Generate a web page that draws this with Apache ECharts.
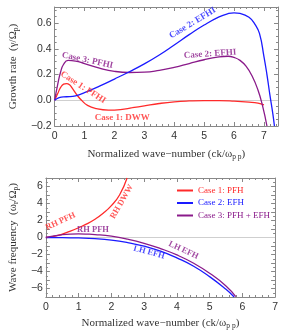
<!DOCTYPE html>
<html><head><meta charset="utf-8">
<script src="https://cdn.jsdelivr.net/npm/echarts@6/dist/echarts.min.js"></script>
<style>html,body{margin:0;padding:0;background:#fff}#c{width:281px;height:331px}</style>
</head><body><div id="c"></div>
<script>
// ---- Top panel: growth rate ----
var kRedTop = [0,0.1,0.2,0.3,0.4,0.5,0.6,0.75,0.9,1.1,1.4,1.8,2.2,2.6,3,3.5,4,4.5,5,5.5,6,6.5,6.8,7.0];
var gRedTop = [0,0.05,0.1,0.125,0.13,0.12,0.09,0.04,0.0,-0.04,-0.065,-0.076,-0.072,-0.058,-0.043,-0.025,-0.012,-0.005,-0.002,-0.002,-0.006,-0.014,-0.022,-0.035];
var kPurTop = [0,0.1,0.2,0.3,0.45,0.7,1,1.5,2,2.5,3,3.5,4,4.5,5,5.5,5.8,6,6.2,6.4,6.6,6.8,6.95,7.1];
var gPurTop = [0,0.12,0.22,0.28,0.31,0.305,0.285,0.25,0.225,0.216,0.218,0.232,0.255,0.285,0.315,0.337,0.342,0.333,0.31,0.265,0.19,0.08,-0.04,-0.2];
var kBluTop = [0,0.15,0.3,0.5,0.7,1,1.5,2,2.5,3,3.5,4,4.5,5,5.5,5.8,6,6.2,6.5,6.7,6.85,7,7.1,7.2,7.3,7.35];
var gBluTop = [0,0.02,0.027,0.028,0.035,0.06,0.11,0.165,0.222,0.283,0.352,0.43,0.51,0.585,0.648,0.673,0.68,0.675,0.645,0.59,0.52,0.34,0.2,0.04,-0.11,-0.2];
var topTicksX = [0,1,2,3,4,5,6,7];
var topTicksY = [-0.2,0,0.2,0.4,0.6];

// ---- Bottom panel: wave frequency ----
var kRedBot = [0,0.25,0.5,0.75,1,1.25,1.5,1.75,2,2.25,2.48];
var wRedBot = [0,0.12,0.4,0.75,1.15,1.6,2.15,2.85,3.75,5.0,7.0];
var kPurBot = [0,0.25,0.5,0.75,1,1.25,1.5,2,2.5,3,3.5,4,4.5,5,5.5,5.8];
var wPurBot = [0,0.2,0.33,0.4,0.42,0.4,0.35,0.15,-0.2,-0.68,-1.3,-2.05,-3.0,-4.2,-5.7,-6.95];
var kBluBot = [0,0.5,1,1.5,2,2.5,3,3.5,4,4.5,5,5.5,5.75];
var wBluBot = [0,-0.01,-0.05,-0.13,-0.3,-0.6,-1.02,-1.6,-2.4,-3.35,-4.6,-6.1,-7.0];
var botTicksX = [0,1,2,3,4,5,6,7];
var botTicksY = [-6,-4,-2,0,2,4,6];

var legendNames = ['Case 1: PFH','Case 2: EFH','Case 3: PFH + EFH'];
var topNotes = ['Case 2: EFHI','Case 2: EFHI','Case 3: PFHI','Case 1: PFHI','Case 1: DWW'];
var botNotes = ['RH PFH','RH DWW','RH PFH','LH EFH','LH EFH'];

var RED='#ff2a2a', BLUE='#1a1aff', PUR='#8a1a8a';
function zip(a,b){return a.map(function(v,i){return [v,b[i]];});}
function has(arr,v){return arr.some(function(t){return Math.abs(t-v)<1e-6;});}
var FRAME='#888', TXT='#333';
var serif='"Liberation Serif","DejaVu Serif",serif';

function xAx(grid,max,ticks,pos,label,name,gap){
  return {gridIndex:grid,type:'value',min:0,max:max,interval:1,position:pos,
    axisLine:{onZero:false,lineStyle:{color:FRAME,width:1}},
    axisTick:{inside:true,length:4,lineStyle:{color:FRAME}},
    minorTick:{show:true,splitNumber:5,length:2,lineStyle:{color:FRAME}},
    splitLine:{show:false},
    axisLabel:{show:label,margin:5,fontSize:10.5,color:TXT,fontFamily:'"Liberation Sans",Arial,sans-serif',
      formatter:function(v){return has(ticks,v)?String(v):'';}},
    name:label?name:'',nameLocation:'middle',nameGap:gap,
    nameTextStyle:{fontFamily:serif,fontSize:11,color:TXT,
      rich:{a:{fontFamily:serif,fontSize:11,color:TXT},s:{fontFamily:serif,fontSize:7.5,color:TXT,padding:[5,0,0,0]}}}
  };
}
function yAx(grid,min,max,iv,minor,ticks,pos,label,name,gap,fmt){
  return {gridIndex:grid,type:'value',min:min,max:max,interval:iv,position:pos,
    axisLine:{onZero:false,lineStyle:{color:FRAME,width:1}},
    axisTick:{inside:true,length:4,lineStyle:{color:FRAME}},
    minorTick:{show:true,splitNumber:minor,length:2,lineStyle:{color:FRAME}},
    splitLine:{show:false},
    axisLabel:{show:label,margin:3,fontSize:10.5,color:TXT,fontFamily:'"Liberation Sans",Arial,sans-serif',
      formatter:function(v){return has(ticks,v)?fmt(v):'';}},
    name:label?name:'',nameLocation:'middle',nameGap:gap,nameRotate:90,
    nameTextStyle:{fontFamily:serif,fontSize:11,color:TXT,
      rich:{a:{fontFamily:serif,fontSize:11,color:TXT},s:{fontFamily:serif,fontSize:7.5,color:TXT,padding:[5,0,0,0]}}}
  };
}
function minus(s){return s.replace('-','\u2212');}
var xName='{a|Normalized wave\u2212number (ck/\u03c9}{s|p p}{a|)}';

function line(name,x,y,color,xi,yi,zero){
  var s={name:name,type:'line',xAxisIndex:xi,yAxisIndex:yi,data:zip(x,y),showSymbol:false,symbol:'none',
    smooth:0.5,lineStyle:{color:color,width:1.3},itemStyle:{color:color},clip:true,z:3};
  if(zero){s.markLine={silent:true,symbol:['none','none'],label:{show:false},
    lineStyle:{color:'#cfcfcf',width:1,type:'solid'},data:[{yAxis:0}],z:1};}
  return s;
}
function note(txt,x,y,rot,color,size){
  return {value:[x,y],label:{show:true,formatter:txt,rotate:rot,color:color,fontSize:size,fontWeight:'bold',fontFamily:serif,position:'inside'}};
}

var chart=echarts.init(document.getElementById('c'),null,{renderer:'canvas'});
chart.setOption({
  animation:false,
  grid:[{left:40,top:7,width:238,height:119},{left:32,top:178,width:245,height:121}],
  legend:{data:legendNames.map(function(n,i){return {name:n,textStyle:{color:[RED,BLUE,PUR][i]}};}),
    orient:'vertical',left:172,top:181,itemWidth:16,itemHeight:10,itemGap:3.5,
    textStyle:{fontFamily:serif,fontSize:9},selectedMode:false,icon:'path://M0,4 L16,4 L16,6 L0,6 Z'},
  xAxis:[
    xAx(0,7.47,topTicksX,'bottom',true,xName,22),
    xAx(0,7.47,topTicksX,'top',false,'',0),
    xAx(1,7,botTicksX,'bottom',true,xName,20),
    xAx(1,7,botTicksX,'top',false,'',0)
  ],
  yAxis:[
    yAx(0,-0.2,0.725,0.2,4,topTicksY,'left',true,'{a|Growth rate  (\u03b3/\u03a9}{s|p}{a|)}',31,function(v){return minus(v.toFixed(1));}),
    yAx(0,-0.2,0.725,0.2,4,topTicksY,'right',false,'',0,String),
    yAx(1,-7,7,1,2,botTicksY,'left',true,'{a|Wave frequency  (\u03c9}{s|r}{a|/\u03a9}{s|p}{a|)}',22,function(v){return minus(String(v));}),
    yAx(1,-7,7,1,2,botTicksY,'right',false,'',0,String)
  ],
  series:[
    line('Case 1: PFHI',kRedTop,gRedTop,RED,0,0,true),
    line('Case 3: PFHI',kPurTop,gPurTop,PUR,0,0,false),
    line('Case 2: EFHI',kBluTop,gBluTop,BLUE,0,0,false),
    line(legendNames[0],kRedBot,wRedBot,RED,2,2,true),
    line(legendNames[1],kBluBot,wBluBot,BLUE,2,2,false),
    line(legendNames[2],kPurBot,wPurBot,PUR,2,2,false),
    {type:'scatter',xAxisIndex:0,yAxisIndex:0,symbolSize:0,silent:true,z:5,data:[
      note(topNotes[0],4.61,0.6,31,BLUE,9),
      note(topNotes[1],5.2,0.36,4,PUR,9),
      note(topNotes[2],1.1,0.31,-12,PUR,9),
      note(topNotes[3],0.95,0.1,-33,RED,9),
      note(topNotes[4],2.26,-0.132,0,RED,9)
    ]},
    {type:'scatter',xAxisIndex:2,yAxisIndex:2,symbolSize:0,silent:true,z:5,data:[
      note(botNotes[0],0.45,1.9,25,RED,8.5),
      note(botNotes[1],2.32,4.2,60,RED,8.5),
      note(botNotes[2],1.44,0.95,0,PUR,8.5),
      note(botNotes[3],3.15,-1.75,-15,BLUE,8.5),
      note(botNotes[4],4.2,-1.5,-25,PUR,8.5)
    ]}
  ]
});
</script></body></html>
